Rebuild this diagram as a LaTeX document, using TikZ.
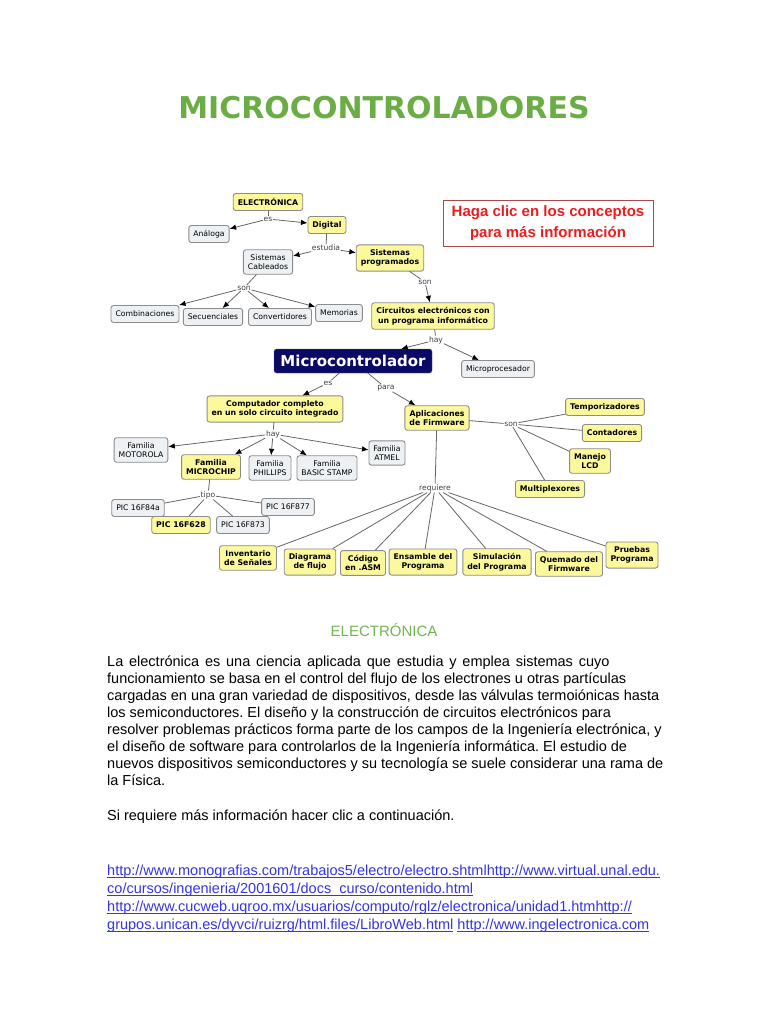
\documentclass[tikz,border=0pt]{standalone}
\usepackage{fontspec}
\setmainfont{Liberation Sans}
\newfontfamily\mapfont{DejaVu Sans}
\usetikzlibrary{arrows.meta}
\definecolor{titlegreen}{HTML}{6AAD45}
\definecolor{headgreen}{HTML}{72B552}
\definecolor{mapyellow}{HTML}{FCF99C}
\definecolor{mapgray}{HTML}{EDF1F3}
\definecolor{mapnavy}{HTML}{0A0A66}
\definecolor{linkblue}{HTML}{3434EC}
\definecolor{clicred}{HTML}{EE1C1C}
\definecolor{clicframe}{HTML}{A84848}
\newcommand\bodyfont{\fontsize{14.5}{17}\selectfont}
\newcommand\subr[1]{\setbox0\hbox{#1}\rlap{\vrule height -1.6pt depth 2.6pt width \wd0}\box0\relax}
\frenchspacing
\begin{document}
\begin{tikzpicture}[x=1pt,y=-1pt,line cap=round,line join=round,
  yel/.style={draw=black!45,fill=mapyellow,rounded corners=2.5pt,line width=0.9pt,align=center,
    inner xsep=4.5pt,inner ysep=4.5pt,minimum height=17pt,font=\mapfont\bfseries\fontsize{7.8}{9.5}\selectfont},
  gry/.style={yel,fill=mapgray,font=\mapfont\fontsize{7.7}{9.5}\selectfont},
  lbl/.style={font=\mapfont\fontsize{7.6}{8}\selectfont,text=black!75,fill=white,inner sep=0.8pt},
  ln/.style={draw=black!60,line width=0.8pt},
  arr/.style={ln,-{Latex[length=6.5pt,width=5.5pt,color=black]}}]
  \fill[white] (0,0) rectangle (768,1024);
  \useasboundingbox (0,0) rectangle (768,1024);
  \node[font=\mapfont\bfseries\fontsize{30}{36}\selectfont,text=titlegreen] (titulo) at (384,108) {MICROCONTROLADORES};
  \node[draw=clicframe,line width=0.9pt,minimum width=210pt,minimum height=46pt,align=center,
    text=clicred,font=\bfseries\fontsize{15}{21}\selectfont] (clic) at (548,223) {Haga clic en los conceptos\\para más información};
  \node[yel] (electronica) at (268,202) {ELECTRÓNICA};
  \node[gry] (analoga) at (209,234) {Análoga};
  \node[yel] (digital) at (327,225) {Digital};
  \node[gry] (cableados) at (268,262) {Sistemas\\Cableados};
  \node[yel] (programados) at (390,258) {Sistemas\\programados};
  \node[gry] (combinaciones) at (145,314) {Combinaciones};
  \node[gry] (secuenciales) at (213,317) {Secuenciales};
  \node[gry] (convertidores) at (280,317) {Convertidores};
  \node[gry] (memorias) at (339,313) {Memorias};
  \node[yel] (circuitos) at (433,316) {Circuitos electrónicos con\\un programa informático};
  \node[draw=black!60,fill=mapnavy,text=white,rounded corners=2.5pt,font=\mapfont\bfseries\fontsize{15}{18}\selectfont,
    minimum width=158pt,minimum height=24pt,inner sep=2pt] (micro) at (353,361) {Microcontrolador};
  \node[gry] (microproc) at (498,369) {Microprocesador};
  \node[yel] (computador) at (275,409) {Computador completo\\en un solo circuito integrado};
  \node[yel] (aplicaciones) at (437,418) {Aplicaciones\\de Firmware};
  \node[gry] (motorola) at (141,450) {Familia\\MOTOROLA};
  \node[yel] (microchip) at (211,467) {Familia\\MICROCHIP};
  \node[gry] (phillips) at (270,468) {Familia\\PHILLIPS};
  \node[gry] (basic) at (327,468) {Familia\\BASIC STAMP};
  \node[gry] (atmel) at (387,453) {Familia\\ATMEL};
  \node[gry] (pic84) at (138,508) {PIC 16F84a};
  \node[yel] (pic628) at (181,525) {PIC 16F628};
  \node[gry] (pic873) at (243,525) {PIC 16F873};
  \node[gry] (pic877) at (288,507) {PIC 16F877};
  \node[yel] (temporizadores) at (605,407) {Temporizadores};
  \node[yel] (contadores) at (612,433) {Contadores};
  \node[yel] (lcd) at (590,461) {Manejo\\LCD};
  \node[yel] (multiplexores) at (550,489) {Multiplexores};
  \node[yel] (inventario) at (248,558) {Inventario\\de Señales};
  \node[yel] (diagrama) at (310,562) {Diagrama\\de flujo};
  \node[yel] (codigo) at (363,563) {Código\\en .ASM};
  \node[yel] (ensamble) at (423,562) {Ensamble del\\Programa};
  \node[yel] (simulacion) at (497,562) {Simulación\\del Programa};
  \node[yel] (quemado) at (569,564) {Quemado del\\Firmware};
  \node[yel] (pruebas) at (632,555) {Pruebas\\Programa};
  \node[lbl] (es1) at (268,219) {es};
  \node[lbl] (estudia) at (326,248) {estudia};
  \node[lbl] (son1) at (244,288) {son};
  \node[lbl] (son2) at (425,282) {son};
  \node[lbl] (hay1) at (436,340) {hay};
  \node[lbl] (es2) at (328,383) {es};
  \node[lbl] (para) at (386,388) {para};
  \node[lbl] (hay2) at (273,434) {hay};
  \node[lbl] (tipo) at (208,495) {tipo};
  \node[lbl] (son3) at (511,424) {son};
  \node[lbl] (requiere) at (435,488) {requiere};
  \draw[ln] (electronica) -- (es1);
  \foreach \n in {analoga,digital} \draw[arr] (es1) -- (\n);
  \draw[ln] (digital) -- (estudia);
  \foreach \n in {cableados,programados} \draw[arr] (estudia) -- (\n);
  \draw[ln] (cableados) -- (son1);
  \foreach \n in {combinaciones,secuenciales,convertidores,memorias} \draw[arr] (son1) -- (\n);
  \draw[ln] (programados) -- (son2);
  \draw[arr] (son2) -- (circuitos);
  \draw[ln] (circuitos) -- (hay1);
  \foreach \n in {micro,microproc} \draw[arr] (hay1) -- (\n);
  \draw[ln] (micro) -- (es2);
  \draw[arr] (es2) -- (computador);
  \draw[ln] (micro) -- (para);
  \draw[arr] (para) -- (aplicaciones);
  \draw[ln] (computador) -- (hay2);
  \foreach \n in {motorola,microchip,phillips,basic,atmel} \draw[arr] (hay2) -- (\n);
  \draw[ln] (microchip) -- (tipo);
  \foreach \n in {pic84,pic628,pic873,pic877} \draw[ln] (tipo) -- (\n);
  \draw[ln] (aplicaciones) -- (son3);
  \foreach \n in {temporizadores,contadores,lcd,multiplexores} \draw[ln] (son3) -- (\n);
  \draw[ln] (aplicaciones) -- (requiere);
  \foreach \n in {inventario,diagrama,codigo,ensamble,simulacion,quemado,pruebas} \draw[ln] (requiere) -- (\n);
  \node[text=headgreen,font=\fontsize{15}{18}\selectfont] (cabecera) at (384,630) {ELECTRÓNICA};
  \foreach \t [count=\i] in {
    {\spaceskip=5.8pt plus 1pt La electrónica es una ciencia aplicada que estudia y emplea sistemas cuyo},
    {funcionamiento se basa en el control del flujo de los electrones u otras partículas},
    {cargadas en una gran variedad de dispositivos, desde las válvulas termoiónicas hasta},
    {los semiconductores. El diseño y la construcción de circuitos electrónicos para},
    {resolver problemas prácticos forma parte de los campos de la Ingeniería electrónica, y},
    {el diseño de software para controlarlos de la Ingeniería informática. El estudio de},
    {nuevos dispositivos semiconductores y su tecnología se suele considerar una rama de},
    {la Física.}}
    \node[anchor=base west,inner sep=0pt,font=\bodyfont] (linea\i) at (107,{649+17*\i}) {\t};
  \node[anchor=base west,inner sep=0pt,font=\bodyfont] (aviso) at (107,820) {Si requiere más información hacer clic a continuación.};
  \foreach \t [count=\i] in {
    {\subr{http://www.monografias.com/trabajos5/electro/electro.shtmlhttp://www.virtual.unal.edu.}},
    {\subr{co/cursos/ingenieria/2001601/docs\_curso/contenido.html}},
    {\subr{http://www.cucweb.uqroo.mx/usuarios/computo/rglz/electronica/unidad1.htmhttp://}},
    {\subr{grupos.unican.es/dyvci/ruizrg/html.files/LibroWeb.html} \subr{http://www.ingelectronica.com}}}
    \node[anchor=base west,inner sep=0pt,font=\bodyfont,text=linkblue] (enlace\i) at (107,{857+18*\i}) {\t};
\end{tikzpicture}
\end{document}
